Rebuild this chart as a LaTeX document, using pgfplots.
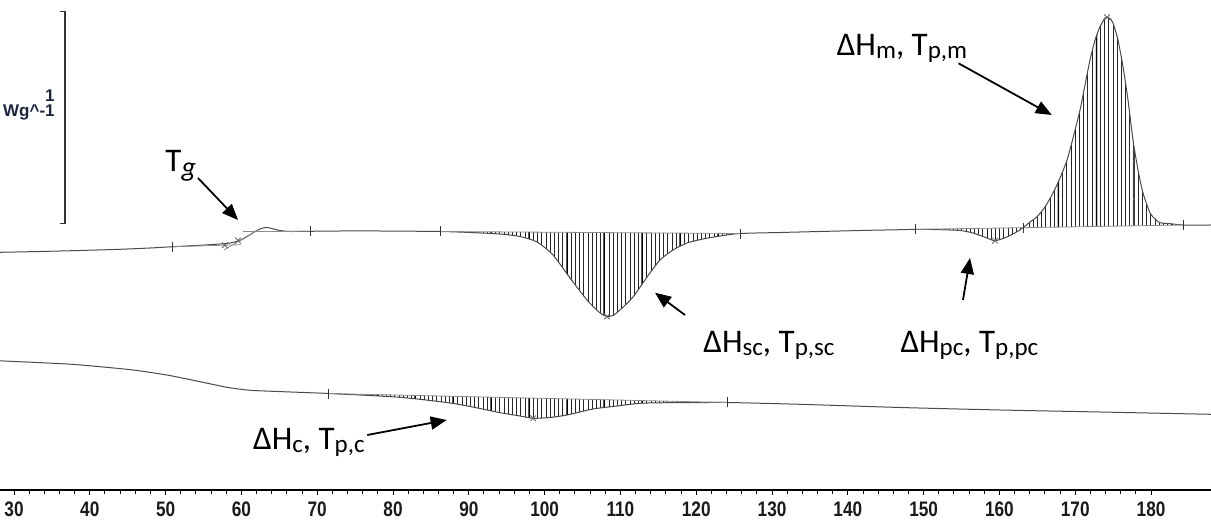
\documentclass[border=0pt]{standalone}
\usepackage{pgfplots}
\pgfplotsset{compat=1.18}
\usepgfplotslibrary{fillbetween}
\usetikzlibrary{patterns.meta,arrows.meta}
\usepackage{graphicx}
\usepackage{fontspec}
\setmainfont{Liberation Sans}
\newfontfamily\annfont{Carlito}
\definecolor{curve}{HTML}{4A4A4A}
\definecolor{base}{HTML}{8C8C8C}
\definecolor{navy}{HTML}{1C2440}
\definecolor{ticktext}{HTML}{1A1A1A}
\newcommand\sub[1]{\raisebox{-1.5pt}{\fontsize{12.5}{14}\selectfont #1}}
\tikzset{
  ann/.style={anchor=base west, inner sep=0pt, font=\annfont\fontsize{16.5}{18}\selectfont},
  pointer/.style={line width=0.9pt, -{Triangle[length=8pt,width=6.5pt]}},
  hatch/.style={draw=none, pattern={Lines[angle=90,distance=2.1pt,line width=0.35pt]}, pattern color=black!85},
  hatchbold/.style={draw=none, pattern={Lines[angle=90,distance=18.9pt,line width=0.7pt]}, pattern color=black},
}
\begin{document}
\begin{tikzpicture}
\begin{axis}[
  name=dsc, at={(0,0)}, anchor=south west,
  scale only axis, width=605.5pt, height=245pt,
  xmin=28.15, xmax=187.91, ymin=0, ymax=2.3333,
  axis x line*=bottom, axis y line=none,
  axis line style={black, line width=0.6pt},
  xtick={30,40,...,180}, minor x tick num=4,
  tick align=outside, major tick length=2.6pt, minor tick length=1.8pt,
  every tick/.style={black, line width=0.5pt},
  xticklabel style={font=\fontsize{10.5}{11}\selectfont\bfseries, text=ticktext, inner sep=1pt, yshift=-2.2pt},
  xticklabel={\scalebox{0.82}[1]{\pgfmathprintnumber[assume math mode=true]{\tick}}},
  clip=false,
]

% ---- first heating scan (heat flow, W/g, endo up) ----
\addplot[name path=top, curve, line width=0.5pt, smooth, tension=0.4] coordinates {
(28.15,1.1319) (33.43,1.1357) (38.70,1.1405) (43.98,1.1462) (47.94,1.1524)
(50.97,1.1586) (54.54,1.1652) (57.17,1.1714) (58.49,1.1762) (59.81,1.1881)
(60.87,1.2095) (61.79,1.2310) (62.45,1.2429) (62.98,1.2486) (63.51,1.2495)
(64.17,1.2438) (65.09,1.2357) (66.41,1.2310) (69.05,1.2319) (73.00,1.2333)
(78.28,1.2333) (86.20,1.2310) (90.16,1.2262) (94.11,1.2190) (96.75,1.2071)
(98.99,1.1810) (101.11,1.1190) (103.35,1.0095) (105.59,0.9048) (107.31,0.8429)
(108.23,0.8262) (109.02,0.8310) (109.94,0.8571) (111.66,0.9190) (113.51,1.0143)
(115.22,1.0952) (116.94,1.1429) (118.78,1.1762) (120.89,1.1952) (123.14,1.2095)
(125.78,1.2214) (131.05,1.2262) (136.33,1.2310) (141.61,1.2357) (146.88,1.2395)
(148.99,1.2414) (152.16,1.2395) (154.80,1.2357) (156.51,1.2238) (158.36,1.2000)
(159.42,1.1871) (161.00,1.2048) (162.32,1.2300) (163.11,1.2490) (164.03,1.2762)
(164.96,1.3014) (166.01,1.3476) (167.07,1.4143) (167.99,1.4857) (168.92,1.5714)
(169.71,1.6762) (170.63,1.8095) (171.29,1.9286) (171.95,2.0476) (172.61,2.1429)
(173.27,2.2062) (173.93,2.2476) (174.19,2.2510) (174.59,2.2452) (174.98,2.2238)
(175.64,2.1429) (176.30,2.0157) (176.96,1.8571) (177.62,1.6667) (178.28,1.5238)
(178.94,1.4143) (179.87,1.3190) (180.53,1.2905) (181.18,1.2729) (182.90,1.2667)
(184.22,1.2619) (187.91,1.2619)
};

% integration baselines
\addplot[name path=bsc, base, line width=0.4pt] coordinates {(86.20,1.2310) (125.78,1.2214)};
\addplot[name path=bpc, base, line width=0.4pt] coordinates {(148.99,1.2414) (163.11,1.2490)};
\addplot[name path=bm,  base, line width=0.4pt] coordinates {(163.11,1.2490) (184.22,1.2619)};

% glass transition construction lines
\addplot[base, line width=0.4pt] coordinates {(50.97,1.1586) (60.00,1.1680)};
\addplot[base, line width=0.4pt] coordinates {(57.70,1.1429) (62.20,1.2400)};
\addplot[base, line width=0.4pt] coordinates {(60.20,1.2305) (69.05,1.2319)};

% hatched peak areas
\addplot[hatch] fill between[of=top and bsc, soft clip={domain=86.20:125.78}];
\addplot[hatchbold] fill between[of=top and bsc, soft clip={domain=86.20:125.78}];
\addplot[hatch] fill between[of=top and bpc, soft clip={domain=148.99:163.11}];
\addplot[hatch] fill between[of=top and bm, soft clip={domain=163.11:184.22}];
\addplot[hatchbold] fill between[of=top and bm, soft clip={domain=163.11:184.22}];

% ---- cooling scan ----
\addplot[name path=bot, curve, line width=0.5pt, smooth, tension=0.4] coordinates {
(28.15,0.6152) (36.99,0.6000) (41.34,0.5871) (45.70,0.5714) (50.18,0.5476)
(54.54,0.5157) (58.10,0.4890) (61.13,0.4748) (65.49,0.4681) (71.55,0.4595)
(80.92,0.4414) (87.52,0.4143) (90.82,0.3929) (94.11,0.3681) (96.75,0.3524)
(98.47,0.3414) (100.71,0.3452) (102.95,0.3571) (106.38,0.3857) (109.55,0.4000)
(112.58,0.4129) (116.15,0.4157) (120.50,0.4162) (124.06,0.4167) (133.69,0.4081)
(146.88,0.3929) (160.08,0.3810) (173.27,0.3714) (187.91,0.3605)
};
\addplot[name path=bc, base, line width=0.4pt] coordinates {(71.55,0.4595) (124.06,0.4167)};
\addplot[hatch] fill between[of=bot and bc, soft clip={domain=71.55:124.06}];
\addplot[hatchbold] fill between[of=bot and bc, soft clip={domain=71.55:124.06}];

% integration limits
\addplot[only marks, mark=|, mark size=2.5pt, mark options={black!80, line width=0.5pt}] coordinates {
(50.97,1.1586) (69.05,1.2319) (86.20,1.2310) (125.78,1.2214)
(148.99,1.2414) (163.11,1.2490) (184.22,1.2619) (71.55,0.4595) (124.06,0.4167)};
% peak positions
\addplot[only marks, mark=x, mark size=2pt, mark options={black!60, line width=0.4pt}] coordinates {
(108.23,0.8262) (159.42,1.1871) (174.19,2.2510) (98.47,0.3414) (57.80,1.1652) (59.55,1.1881)};

% scale bar
\draw[black!80, line width=0.6pt] (axis cs:36.07,2.2776) -- (axis cs:36.73,2.2776)
  -- (axis cs:36.73,1.2700) -- (axis cs:36.07,1.2700);
\node[anchor=base east, inner sep=0pt, text=navy, font=\fontsize{8.5}{9}\selectfont\bfseries]
  at (axis cs:35.41,1.850) {1};
\node[anchor=base east, inner sep=0pt, text=navy, font=\fontsize{8.5}{9}\selectfont\bfseries]
  at (axis cs:35.41,1.7776) {Wg\^{}-1};

% annotations
\node[ann] at (axis cs:49.92,1.519) {T\raisebox{-2.5pt}{\fontsize{14}{14}\selectfont\itshape g}};
\draw[pointer] (axis cs:54.27,1.4857) -- (axis cs:59.55,1.2857);

\node[ann] at (axis cs:138.50,2.071) {ΔH\sub{m}, T\sub{p,m}};
\draw[pointer] (axis cs:154.60,2.0319) -- (axis cs:166.90,1.7857);

\node[ann] at (axis cs:120.90,0.657) {ΔH\sub{sc}, T\sub{p,sc}};
\draw[pointer] (axis cs:118.52,0.8333) -- (axis cs:114.56,0.9395);

\node[ann] at (axis cs:146.90,0.657) {ΔH\sub{pc}, T\sub{p,pc}};
\draw[pointer] (axis cs:155.19,0.9048) -- (axis cs:156.12,1.1048);

\node[ann] at (axis cs:61.50,0.195) {ΔH\sub{c}, T\sub{p,c}};
\draw[pointer] (axis cs:76.60,0.2619) -- (axis cs:87.08,0.3333);
\end{axis}
\pgfresetboundingbox
\path[use as bounding box] (0pt,-15pt) rectangle (605.5pt,260pt-15pt);
\end{tikzpicture}
\end{document}
